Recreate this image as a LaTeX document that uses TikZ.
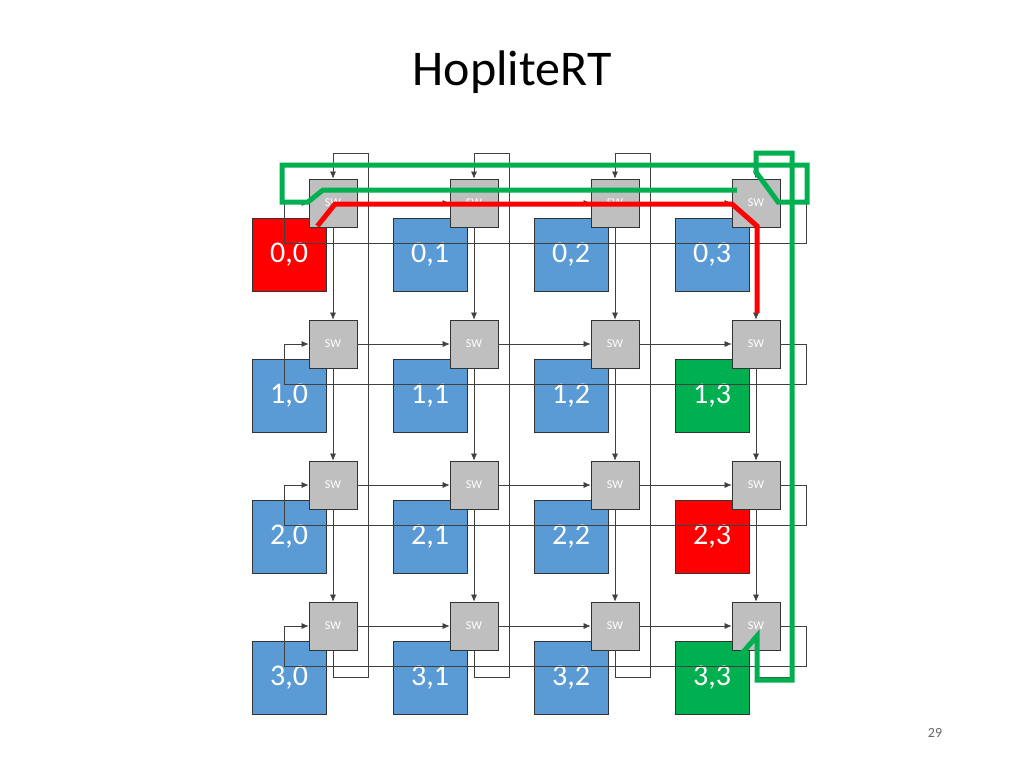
\documentclass[tikz,border=0pt]{standalone}
\usepackage{fontspec}
\setmainfont{Carlito}
\usetikzlibrary{arrows.meta}
\definecolor{peblue}{HTML}{5B9BD5}
\definecolor{pered}{HTML}{FF0000}
\definecolor{pegreen}{HTML}{00B050}
\definecolor{swgray}{HTML}{BFBFBF}
\tikzset{
 swbox/.style={draw=black!80,fill=swgray,minimum width=48pt,minimum height=48pt,inner sep=0pt,text=white,font=\fontsize{12}{12}\selectfont,line width=0.8pt},
 pebox/.style={draw=black!80,minimum width=74pt,minimum height=73pt,inner sep=0pt,text=white,font=\fontsize{30}{30}\selectfont,line width=0.8pt},
 wire/.style={black!75,line width=0.6pt,-{Latex[length=7pt,width=6pt]}},
 route/.style={line width=5pt,line join=miter},
}
\begin{document}
\begin{tikzpicture}[x=1pt,y=-1pt]
\useasboundingbox (0,0) rectangle (1024,768);
\node at (512,72) {\fontsize{50}{50}\selectfont HopliteRT};
\node[text=black!60] at (935,733) {\fontsize{14}{14}\selectfont 29};
\foreach \r in {0,...,3}{
 \foreach \c in {0,...,3}{
  \pgfmathsetmacro\xx{333+141*\c}
  \pgfmathsetmacro\yy{203+141*\r}
  \coordinate (c-\r-\c) at (\xx,\yy);
 }}
% PEs
\foreach \r in {0,...,3}{
 \foreach \c in {0,...,3}{
  \def\col{peblue}
  \ifnum\r=0 \ifnum\c=0 \def\col{pered}\fi\fi
  \ifnum\r=1 \ifnum\c=3 \def\col{pegreen}\fi\fi
  \ifnum\r=2 \ifnum\c=3 \def\col{pered}\fi\fi
  \ifnum\r=3 \ifnum\c=3 \def\col{pegreen}\fi\fi
  \node[pebox,fill=\col] (pe-\r-\c) at ([shift={(-44,52)}]c-\r-\c) {\r,\c};
 }}
% switches
\foreach \r in {0,...,3}{
 \foreach \c in {0,...,3}{
  \node[swbox] (sw-\r-\c) at (c-\r-\c) {SW};
 }}
% vertical links
\foreach \r/\n in {0/1,1/2,2/3}{
 \foreach \c in {0,...,3}{
  \draw[wire] (sw-\r-\c.south) -- (sw-\n-\c.north);
 }}
\foreach \c in {0,...,3}{
 \draw[wire] (sw-3-\c.south) -- ++(0,27) -| ([xshift=35pt]sw-3-\c.south |- 0,153) -| (sw-0-\c.north);
}
% horizontal links
\foreach \c/\n in {0/1,1/2,2/3}{
 \foreach \r in {0,...,3}{
  \draw[wire] (sw-\r-\c.east) -- (sw-\r-\n.west);
 }}
\foreach \r in {0,...,3}{
 \draw[wire] (sw-\r-3.east) -- ++(26,0) |- ([yshift=-40pt]sw-\r-0.center -| 284,0) |- (sw-\r-0.west);
}
% routes
\draw[route,pered] (pe-0-0.north east) ++(-9,8) -- (335,204) -- (732,204) -- (757,226) -- (757,313);
\draw[route,pegreen] (737,190) -- (323,190) -- (308,202) -- (282,202) -- (282,165) -- (807,165) -- (807,202) -- (778,202) -- (756,172) -- (756,153) -- (792,153) -- (792,680) -- (757,680) -- (757,636) -- (738,658);
\end{tikzpicture}
\end{document}
